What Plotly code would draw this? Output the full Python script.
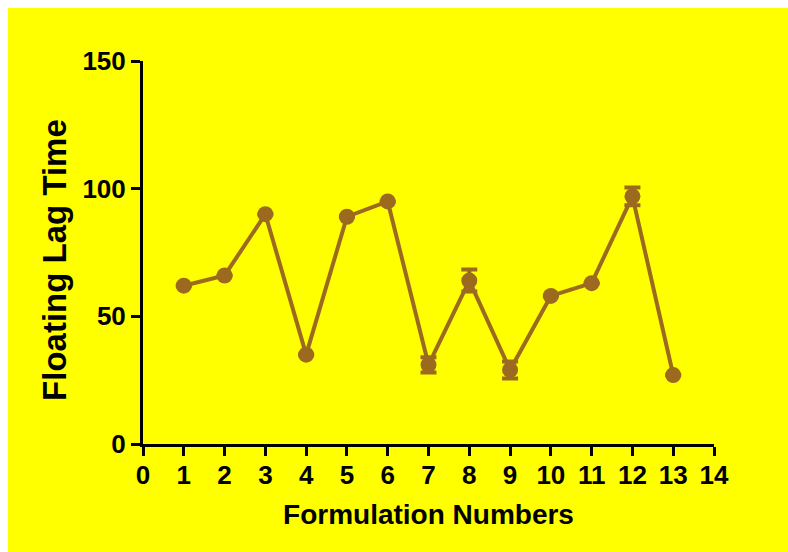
import plotly.graph_objects as go

formulations = [1, 2, 3, 4, 5, 6, 7, 8, 9, 10, 11, 12, 13]
lag_time = [62, 66, 90, 35, 89, 95, 31, 64, 29, 58, 63, 97, 27]
lag_err = [0, 0, 0, 0, 0, 0, 3.0, 4.3, 3.3, 0, 0, 3.5, 0]
x_ticks = list(range(0, 15))
y_ticks = [0, 50, 100, 150]

color = "#9C6A1E"
font_family = "Arial, Liberation Sans, sans-serif"

fig = go.Figure()
fig.add_trace(go.Scatter(
    x=formulations, y=lag_time,
    mode="lines+markers",
    line=dict(color=color, width=4),
    marker=dict(color=color, size=16),
    error_y=dict(type="data", array=lag_err, visible=True, color=color,
                 thickness=4, width=8),
    cliponaxis=False,
    showlegend=False,
))

FW, FH = 780, 544
L, T = 135, 53
PW, PH = 570.6, 383
R = FW - L - PW
B = FH - T - PH

axis_common = dict(
    showline=True, linecolor="black", linewidth=3,
    ticks="outside", ticklen=9, tickwidth=3, tickcolor="black",
    showgrid=False, zeroline=False,
    tickfont=dict(family=font_family, size=26, color="black", weight="bold"),
)

fig.update_layout(
    width=FW, height=FH,
    margin=dict(l=L, r=R, t=T, b=B, autoexpand=False),
    paper_bgcolor="#FFFF00",
    plot_bgcolor="#FFFF00",
    xaxis=dict(range=[0, 14], tickvals=x_ticks, ticktext=[str(v) for v in x_ticks],
               ticklabelstandoff=-3,
               title=dict(text="Formulation Numbers", standoff=16,
                          font=dict(family=font_family, size=28, color="black", weight="bold")),
               **axis_common),
    yaxis=dict(range=[0, 150], tickvals=y_ticks, ticktext=[str(v) for v in y_ticks],
               ticklabelstandoff=0,
               **axis_common),
)

fig.add_annotation(
    text="Floating Lag Time", textangle=-90, showarrow=False,
    xref="paper", yref="paper",
    x=(46 - L) / PW, y=(T + PH - 252) / PH,
    xanchor="center", yanchor="middle",
    font=dict(family=font_family, size=33, color="black", weight="bold"),
)

fig.write_html(
    "out.html",
    post_script="document.documentElement.style.overflow='hidden';"
                "document.body.style.margin='8px 0 0 8px';",
)
